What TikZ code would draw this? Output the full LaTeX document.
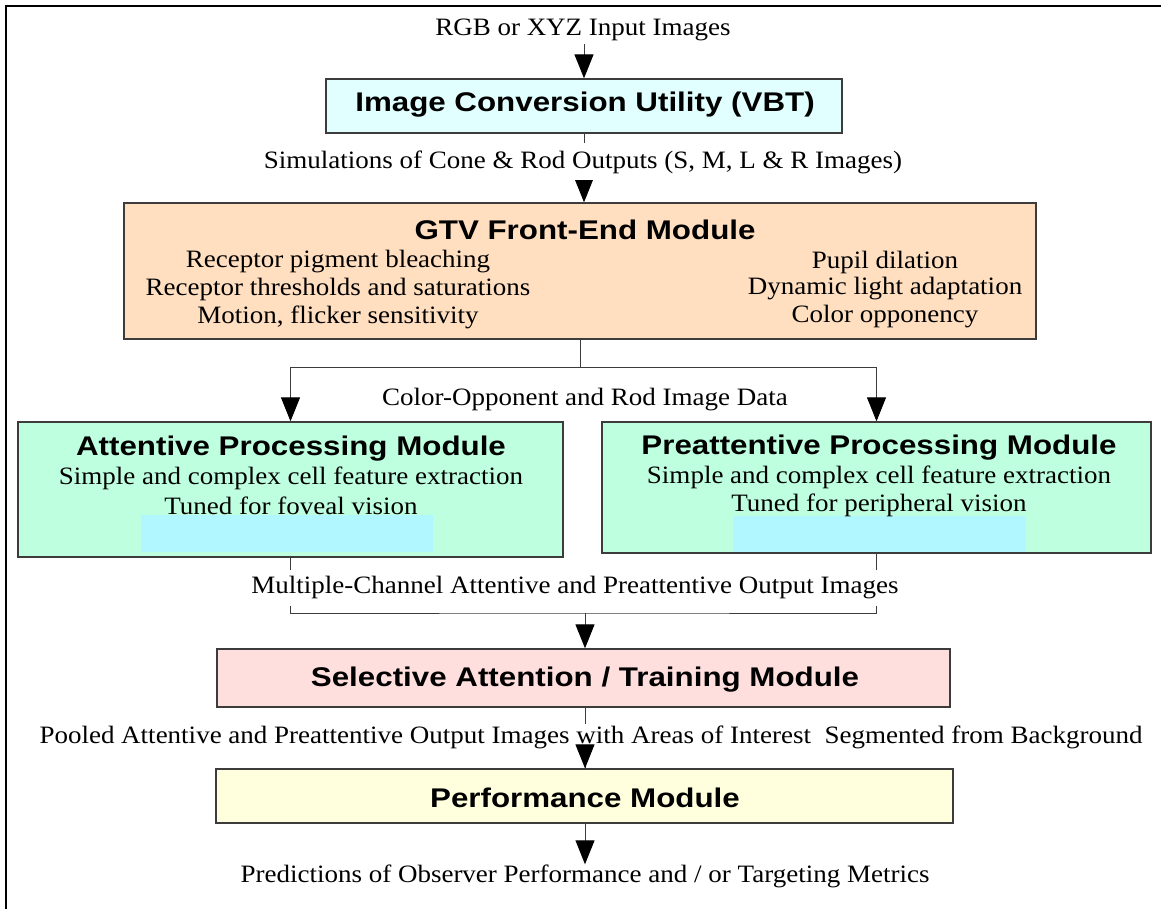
\documentclass[tikz,border=0pt]{standalone}
\usepackage{fontspec}
\setmainfont{Liberation Serif}[FakeStretch=1.08]
\newfontfamily\headfont{Liberation Sans}[FakeStretch=1.16]
\usetikzlibrary{arrows.meta,backgrounds}
\definecolor{cConv}{RGB}{225,255,255}
\definecolor{cGtv}{RGB}{255,223,192}
\definecolor{cMint}{RGB}{190,255,224}
\definecolor{cInner}{RGB}{176,247,255}
\definecolor{cSel}{RGB}{255,222,222}
\definecolor{cPerf}{RGB}{255,255,221}
\definecolor{cEdge}{RGB}{60,60,60}
\tikzset{
  box/.style={draw=cEdge, line width=1.3pt, inner sep=0pt},
  head/.style={font=\headfont\bfseries\fontsize{27}{30}\selectfont, inner sep=0pt},
  txt/.style={font=\fontsize{25}{28}\selectfont, inner sep=0pt},
  lbl/.style={font=\fontsize{25}{28}\selectfont, fill=white, inner xsep=2pt, inner ysep=7pt},
  conn/.style={draw=cEdge, line width=1pt},
  arr/.style={conn, -{Triangle[width=19pt,length=24pt,fill=black,color=black]}},
}
\begin{document}
\begin{tikzpicture}[x=1pt,y=-1pt]
\useasboundingbox (0,0) rectangle (1161,909);
% frame (top and left edges only)
\draw[line width=2.4pt] (6,909) -- (6,6) -- (1161,6);

% boxes
\node[box, fill=cConv, minimum width=516pt, minimum height=54pt] (conv) at (584,106) {};
\node[box, fill=cGtv, minimum width=912pt, minimum height=136pt] (gtv) at (580,271) {};
\node[box, fill=cMint, minimum width=545pt, minimum height=135pt] (att) at (290.5,489.5) {};
\node[box, fill=cMint, minimum width=549pt, minimum height=131pt] (pre) at (876.5,487.5) {};
\node[box, fill=cSel, minimum width=733pt, minimum height=58pt] (sel) at (583.5,678) {};
\node[box, fill=cPerf, minimum width=737pt, minimum height=54pt] (perf) at (584.5,796) {};

% inner cyan panels
\fill[cInner] (141,515) rectangle (433,552);
\fill[cInner] (733,516) rectangle (1026,552);

% box texts
\node[head] (convh) at (585,105) {Image Conversion Utility (VBT)};
\node[head] (gtvh) at (585,230) {GTV Front-End Module};
\node[txt] (g1) at (338,262) {Receptor pigment bleaching};
\node[txt] (g2) at (338,289) {Receptor thresholds and saturations};
\node[txt] (g3) at (338,317) {Motion, flicker sensitivity};
\node[txt] (g4) at (885,262) {Pupil dilation};
\node[txt] (g5) at (885,289) {Dynamic light adaptation};
\node[txt] (g6) at (885,317) {Color opponency};
\node[head] (atth) at (291,449) {Attentive Processing Module};
\node[txt] (a1) at (291,478) {Simple and complex cell feature extraction};
\node[txt] (a2) at (291,506) {Tuned for foveal vision};
\node[head] (preh) at (879,448) {Preattentive Processing Module};
\node[txt] (p1) at (879,477) {Simple and complex cell feature extraction};
\node[txt] (p2) at (879,505) {Tuned for peripheral vision};
\node[head] (selh) at (585,680) {Selective Attention / Training Module};
\node[head] (perfh) at (585,798) {Performance Module};

% labels
\node[txt] (in) at (583,30) {RGB or XYZ Input Images};
\node[lbl] (l1) at (583,162) {Simulations of Cone \& Rod Outputs (S, M, L \& R Images)};
\node[txt] (l2) at (585,400) {Color-Opponent and Rod Image Data};
\node[lbl] (l3) at (575,588) {Multiple-Channel Attentive and Preattentive Output Images};
\node[lbl, inner ysep=2pt] (l4) at (591,737) {Pooled Attentive and Preattentive Output Images with Areas of Interest\ \ Segmented from Background};
\node[txt] (out) at (585,876) {Predictions of Observer Performance and / or Targeting Metrics};

\coordinate (split) at (580,367);
\coordinate (join) at (585,613);

\begin{scope}[on background layer]
\draw[arr] (conv.north |- in.south) ++(0,3) -- (conv.north);
\draw[arr] (conv.south) -- (conv.south |- gtv.north);
\draw[conn] (gtv.south) -- (split);
\draw[arr] (split) -| (att.north);
\draw[arr] (split) -| (pre.north);
\draw[conn] (att.south) |- (join) -| (pre.south);
\draw[arr] (join) -- (join |- sel.north);
\draw[conn] (join |- sel.south) -- (join |- perf.north);
\draw[arr] (join |- perf.south) -- (join |- out.north);
\end{scope}
% arrow head below the pooled label, drawn on top
\draw[arr] (join |- perf.north) ++(0,-22) -- (join |- perf.north);
\end{tikzpicture}
\end{document}
